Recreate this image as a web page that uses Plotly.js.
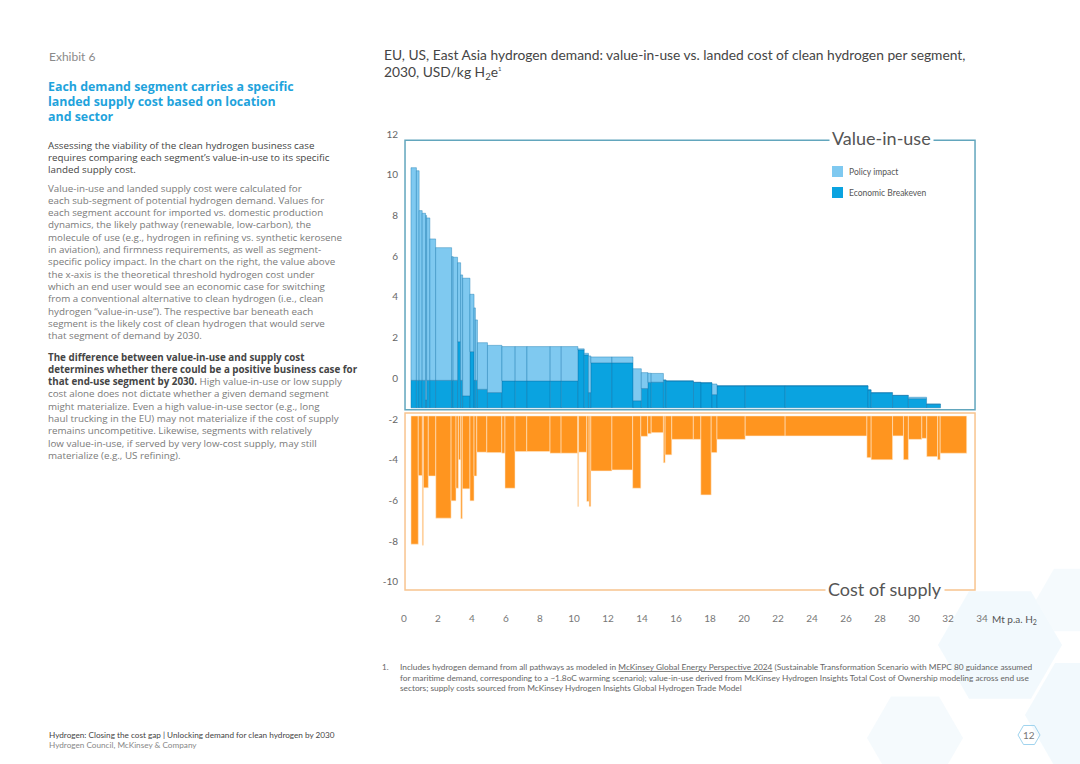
<!DOCTYPE html>
<html>
<head>
<meta charset="utf-8">
<script src="https://cdn.plot.ly/plotly-3.0.1.min.js"></script>
<style>
html,body{margin:0;padding:0;background:#fff;}
#chart{width:1080px;height:764px;}
</style>
</head>
<body>
<div id="chart"></div>
<script>
// ---------------- DATA ----------------
// Value-in-use segments (demand width in Mt p.a. H2, value in USD/kg)
const vSegWidth = [0.32,0.16,0.18,0.20,0.06,0.19,0.34,0.94,0.09,0.26,0.18,0.12,0.43,0.24,0.08,0.12,0.59,0.85,0.78,0.69,1.37,0.65,0.98,0.37,0.25,0.14,1.24,1.24,0.49,0.39,0.19,0.72,0.16,1.61,0.44,0.65,0.29,1.66,2.35,4.88,0.18,1.26,0.93,1.07,0.82];
const valueInUse = [10.35,10.2,8.24,8.11,8.0,7.88,6.85,6.42,5.98,5.95,5.68,5.08,4.92,4.13,3.46,2.87,1.75,1.62,1.56,1.56,1.56,1.56,1.56,1.45,1.23,1.1,1.05,1.05,0.47,0.28,0.25,0.24,-0.09,-0.13,-0.2,-0.22,-0.28,-0.37,-0.37,-0.37,-0.57,-0.71,-0.84,-0.93,-1.27];
const economicBreakeven = [-0.1,-0.1,-0.1,-0.1,-1.06,-0.1,-0.1,-0.1,-0.1,-0.1,1.8,-0.1,-0.86,1.31,-0.1,-0.1,-0.54,-0.7,-0.13,-0.13,-0.13,-0.13,-0.13,1.4,1.15,-0.7,0.76,0.76,-1.1,-0.5,-0.2,-0.19,-0.09,-0.13,-0.2,-0.22,-0.8,-0.37,-0.37,-0.37,-0.57,-0.71,-0.84,-1.0,-1.27];
// Cost-of-supply segments (read as axis depth, plotted downward)
const cSegWidth = [0.43,0.24,0.06,0.29,0.44,0.90,0.29,0.14,0.14,0.09,0.45,0.24,0.16,0.59,0.88,0.19,0.59,0.69,1.37,0.65,0.98,0.05,0.48,0.14,0.10,1.24,1.22,0.48,0.40,0.21,0.72,0.10,0.39,1.27,0.44,0.61,0.34,1.66,2.35,4.81,0.25,1.26,0.64,0.29,0.79,0.29,0.64,0.15,1.56];
const supplyCost = [8.15,4.78,8.2,5.38,4.8,6.87,6.02,5.4,4.0,6.9,5.43,6.02,4.8,3.63,3.65,3.68,5.4,3.6,3.6,3.68,3.68,6.3,3.63,6.05,6.3,4.55,4.5,5.4,2.85,2.72,2.67,4.15,3.76,3.0,3.0,5.73,3.65,3.0,2.83,2.83,3.9,4.0,2.83,4.0,3.0,2.95,3.85,4.0,3.68];
const xTickVals = [0,2,4,6,8,10,12,14,16,18,20,22,24,26,28,30,32,34];
const yTickVals = [-10,-8,-6,-4,-2,0,2,4,6,8,10,12];
const yTickText = ['-10','-8','-6','-4','-2','0','2','4','6','8','10','12'];

// ---------------- LAYOUT CONSTANTS ----------------
const X0 = 0.41;          // first segment start
const VIU_BASE = -1.45;   // floor of value-in-use panel
const COST_BASE = -1.85;  // ceiling of cost-of-supply panel
const M = {l:404, r:98, t:128, b:172};
const PW = 1080 - M.l - M.r, PH = 764 - M.t - M.b;
const px = v => (v - M.l) / PW;
const py = v => 1 - (v - M.t) / PH;
const FONT = "Lato, 'Open Sans', sans-serif";
const BODY = "'Open Sans', Lato, sans-serif";

function mids(widths){
  const out=[]; let acc=X0;
  widths.forEach(w=>{ out.push(acc + w/2); acc += w; });
  return out;
}
const vX = mids(vSegWidth), cX = mids(cSegWidth);

const policyTrace = {
  type:'bar', name:'Policy impact', x:vX, width:vSegWidth,
  base: economicBreakeven,
  y: valueInUse.map((v,i)=>Math.max(0, v - economicBreakeven[i])),
  marker:{color:'#7fc9f0', line:{color:'rgba(20,120,175,0.7)', width:0.6}},
  showlegend:false, hoverinfo:'skip'
};
const breakevenTrace = {
  type:'bar', name:'Economic Breakeven', x:vX, width:vSegWidth,
  base: vX.map(()=>VIU_BASE),
  y: economicBreakeven.map(v=>v - VIU_BASE),
  marker:{color:'#0aa3e0', line:{color:'rgba(10,110,165,0.7)', width:0.6}},
  showlegend:false, hoverinfo:'skip'
};
const costTrace = {
  type:'bar', name:'Cost of supply', x:cX, width:cSegWidth,
  base: cX.map(()=>COST_BASE),
  y: supplyCost.map(c=>-c - COST_BASE),
  marker:{color:'#ff951f', line:{color:'rgba(255,235,210,0.9)', width:0.6}},
  showlegend:false, hoverinfo:'skip'
};

function hexPath(cx, cy, r){
  let s='';
  for(let k=0;k<6;k++){
    const a = Math.PI/180*(60*k);
    const x = px(cx + r*Math.cos(a)), y = py(cy + r*Math.sin(a));
    s += (k===0?'M':'L') + x + ',' + y;
  }
  return s + 'Z';
}

const shapes = [
  // background hexagons
  {type:'path', xref:'paper', yref:'paper', path:hexPath(1000,645,62), fillcolor:'rgba(232,244,251,0.55)', line:{width:0}, layer:'below'},
  {type:'path', xref:'paper', yref:'paper', path:hexPath(1085,715,60), fillcolor:'rgba(232,244,251,0.55)', line:{width:0}, layer:'below'},
  {type:'path', xref:'paper', yref:'paper', path:hexPath(915,738,48), fillcolor:'rgba(236,246,252,0.55)', line:{width:0}, layer:'below'},
  {type:'path', xref:'paper', yref:'paper', path:hexPath(1072,600,36), fillcolor:'rgba(236,246,252,0.55)', line:{width:0}, layer:'below'},
  // page number hexagon
  {type:'path', xref:'paper', yref:'paper', path:hexPath(1029,735,11), fillcolor:'rgba(0,0,0,0)', line:{color:'#9fd3ee', width:1}},
  // panel frames
  {type:'rect', xref:'x', yref:'y', x0:0.06, x1:33.59, y0:-1.55, y1:11.7, line:{color:'#62a6bd', width:1.5}, layer:'below'},
  {type:'rect', xref:'x', yref:'y', x0:0.06, x1:33.59, y0:-10.4, y1:-1.7, line:{color:'#f8c48f', width:1.5}, layer:'below'},
  // legend swatches
  {type:'rect', xref:'paper', yref:'paper', x0:px(832), x1:px(843), y0:py(177), y1:py(166), fillcolor:'#7fc9f0', line:{width:0}},
  {type:'rect', xref:'paper', yref:'paper', x0:px(832), x1:px(843), y0:py(198), y1:py(187), fillcolor:'#0aa3e0', line:{width:0}}
];

function txt(text, x, y, size, color, opts, fam){
  return Object.assign({text:text, xref:'paper', yref:'paper', x:px(x), y:py(y), xanchor:'left', yanchor:'middle',
    showarrow:false, align:'left', font:{family:fam||FONT, size:size, color:color}}, opts||{});
}
function lines(arr, x, y0, dy, size, color, fam){
  return arr.map((t,i)=>txt(t, x, y0 + i*dy, size, color, null, fam));
}

const dk = '#454545', lt = '#7a7a7a';
const heading = ['<b>Each demand segment carries a specific</b>','<b>landed supply cost based on location</b>','<b>and sector</b>'];
const para1 = ['Assessing the viability of the clean hydrogen business case',
 'requires comparing each segment\u2019s value-in-use to its specific',
 'landed supply cost.'];
const para2 = [
 'Value-in-use and landed supply cost were calculated for',
 'each sub-segment of potential hydrogen demand. Values for',
 'each segment account for imported vs. domestic production',
 'dynamics, the likely pathway (renewable, low-carbon), the',
 'molecule of use (e.g., hydrogen in refining vs. synthetic kerosene',
 'in aviation), and firmness requirements, as well as segment-',
 'specific policy impact. In the chart on the right, the value above',
 'the x-axis is the theoretical threshold hydrogen cost under',
 'which an end user would see an economic case for switching',
 'from a conventional alternative to clean hydrogen (i.e., clean',
 'hydrogen \u201cvalue-in-use\u201d). The respective bar beneath each',
 'segment is the likely cost of clean hydrogen that would serve',
 'that segment of demand by 2030.'];
const para3 = [
 '<span style="color:#454545"><b>The difference between value-in-use and supply cost</b></span>',
 '<span style="color:#454545"><b>determines whether there could be a positive business case for</b></span>',
 '<span style="color:#454545"><b>that end-use segment by 2030.</b></span> High value-in-use or low supply',
 'cost alone does not dictate whether a given demand segment',
 'might materialize. Even a high value-in-use sector (e.g., long',
 'haul trucking in the EU) may not materialize if the cost of supply',
 'remains uncompetitive. Likewise, segments with relatively',
 'low value-in-use, if served by very low-cost supply, may still',
 'materialize (e.g., US refining).'];
const footnote = [
 'Includes hydrogen demand from all pathways as modeled in <span style="text-decoration:underline">McKinsey Global Energy Perspective 2024</span> (Sustainable Transformation Scenario with MEPC 80 guidance assumed',
 'for maritime demand, corresponding to a ~1.8oC warming scenario); value-in-use derived from McKinsey Hydrogen Insights Total Cost of Ownership modeling across end use',
 'sectors; supply costs sourced from McKinsey Hydrogen Insights Global Hydrogen Trade Model'];

const annotations = [
  txt('Exhibit 6', 47, 56, 12, '#8a8a8a'),
  ...lines(heading, 46, 86, 15.5, 12.4, '#1fa3dc', BODY),
  ...lines(para1, 46, 145, 12, 9.8, dk, BODY),
  ...lines(para2, 46, 188, 12.3, 9.8, lt, BODY),
  ...lines(para3, 46, 357, 12.3, 9.8, lt, BODY),
  txt('EU, US, East Asia hydrogen demand: value-in-use vs. landed cost of clean hydrogen per segment,', 382, 55, 13.8, dk),
  txt('2030, USD/kg H<sub>2</sub>e<sup><span style="font-size:6px">1</span></sup>', 382, 72, 13.8, dk),
  // panel labels
  {text:'Value-in-use', xref:'x', yref:'y', x:28.06, y:11.7, xanchor:'center', yanchor:'middle', yshift:2, showarrow:false,
   bgcolor:'#ffffff', borderpad:2, font:{family:FONT, size:18, color:'#555'}},
  {text:'Cost of supply', xref:'x', yref:'y', x:28.3, y:-10.4, xanchor:'center', yanchor:'middle', yshift:1, showarrow:false,
   bgcolor:'#ffffff', borderpad:2, font:{family:FONT, size:18, color:'#555'}},
  // legend text
  txt('Policy impact', 847, 171.5, 8.5, '#555'),
  txt('Economic Breakeven', 847, 192.5, 8.5, '#555'),
  // axis unit
  {text:'Mt p.a. H<sub>2</sub>', xref:'x', yref:'paper', x:34, y:py(619), xanchor:'left', yanchor:'middle', xshift:8, showarrow:false,
   font:{family:FONT, size:10, color:'#555'}},
  // footnote
  txt('1.', 380, 667, 8, '#666'),
  ...lines(footnote, 398, 667, 10.5, 8.3, '#666'),
  // footer
  txt('Hydrogen: Closing the cost gap | Unlocking demand for clean hydrogen by 2030', 47, 735, 8.2, '#444'),
  txt('Hydrogen Council, McKinsey & Company', 47, 745, 8.2, '#888'),
  {text:'12', xref:'paper', yref:'paper', x:px(1029), y:py(735), xanchor:'center', yanchor:'middle', showarrow:false,
   font:{family:FONT, size:10, color:'#777'}}
];

const layout = {
  width:1080, height:764,
  margin:M,
  paper_bgcolor:'#ffffff', plot_bgcolor:'rgba(0,0,0,0)',
  barmode:'overlay', bargap:0,
  showlegend:false,
  font:{family:FONT, color:'#666'},
  xaxis:{range:[0,34], tickvals:xTickVals, ticktext:xTickVals.map(String), showgrid:false, zeroline:false, showline:false,
         ticks:'', tickfont:{family:FONT, size:10, color:'#777'}, ticklabelstandoff:19, fixedrange:true},
  yaxis:{range:[-10.5,12.3], tickvals:yTickVals, ticktext:yTickText, showgrid:false, zeroline:false, showline:false,
         ticks:'', tickfont:{family:FONT, size:10, color:'#666'}, ticklabelstandoff:5, fixedrange:true},
  shapes:shapes,
  annotations:annotations
};

Plotly.newPlot('chart', [breakevenTrace, policyTrace, costTrace], layout, {displayModeBar:false, staticPlot:true});
</script>
</body>
</html>
